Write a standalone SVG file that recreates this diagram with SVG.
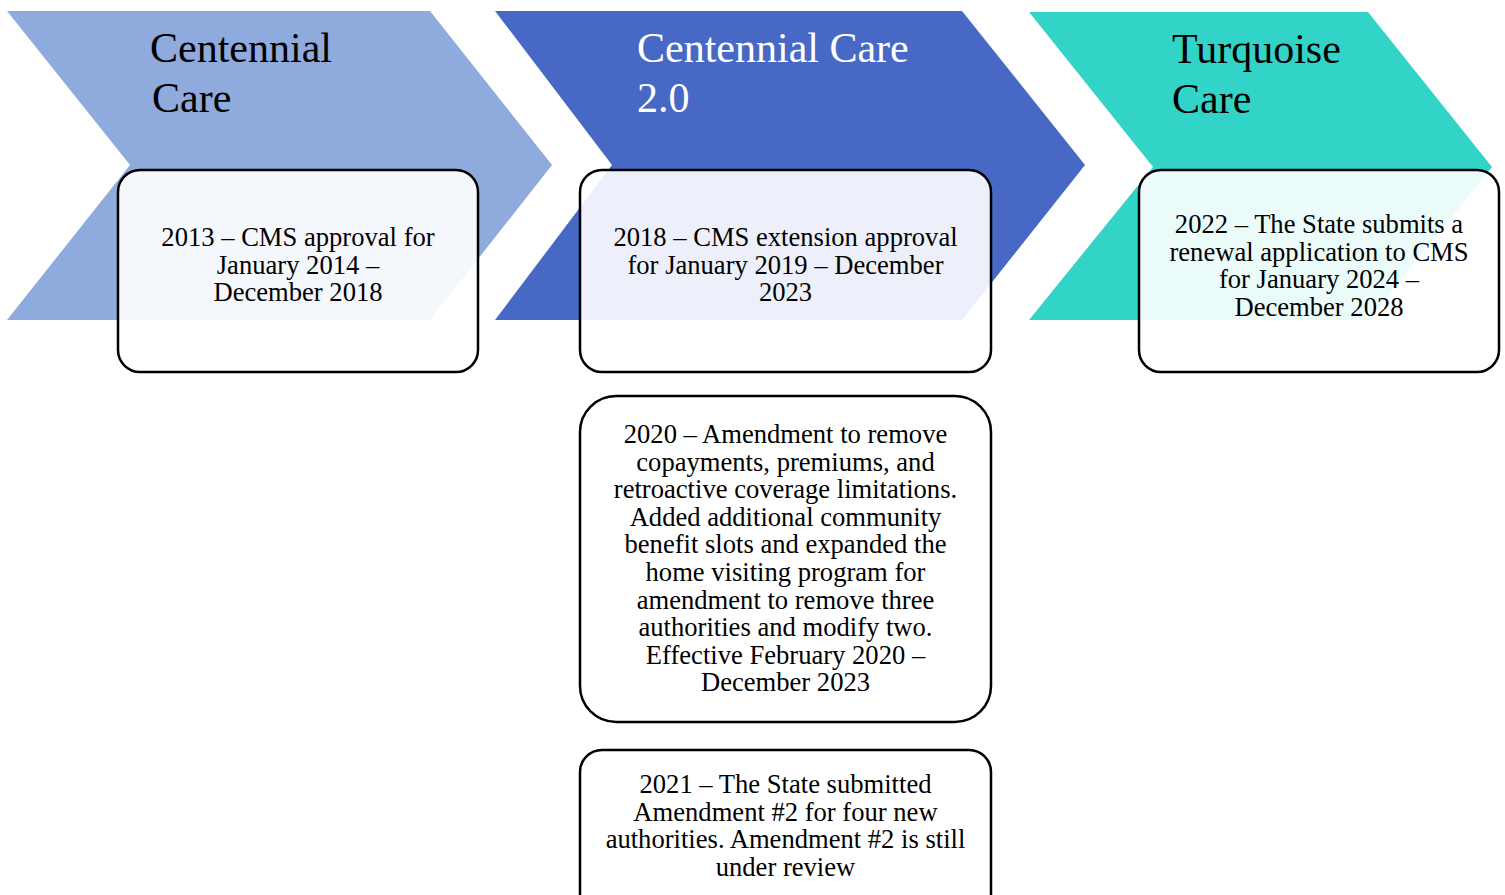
<svg xmlns="http://www.w3.org/2000/svg" width="1505" height="895" viewBox="0 0 1505 895">
<style>
.title{font-family:"Liberation Serif","Times New Roman",serif;font-size:42px;}
.box{fill:#ffffff;fill-opacity:0.9;stroke:#000000;stroke-width:2.5;}
.txt{font-family:"Liberation Serif","Times New Roman",serif;font-size:26.6px;fill:#000000;text-anchor:middle;}
</style>
<rect width="1505" height="895" fill="#ffffff"/>
<g id="chevron-centennial-care">
<polygon points="7,11 430,11 552,165 430,320 7,320 130,165" fill="#8FAADC"/>
<text class="title" fill="#000000"><tspan x="150" y="62">Centennial</tspan><tspan x="152" y="112">Care</tspan></text>
</g>
<g id="chevron-centennial-care-2">
<polygon points="495,11 962,11 1085,165 962,320 495,320 612,165" fill="#4769C5"/>
<text class="title" fill="#ffffff"><tspan x="637" y="62">Centennial Care</tspan><tspan x="637" y="112">2.0</tspan></text>
</g>
<g id="chevron-turquoise-care">
<polygon points="1029,12 1368,12 1492,167 1368,320 1029,320 1153,167" fill="#33D4C8"/>
<text class="title" fill="#000000"><tspan x="1172" y="63">Turquoise</tspan><tspan x="1172" y="113">Care</tspan></text>
</g>
<g id="connectors"></g>
<g id="box-2013">
<rect class="box" x="118" y="170" width="360" height="202" rx="22"/>
<text class="txt"><tspan x="298" y="246">2013 – CMS approval for</tspan><tspan x="298" y="274">January 2014 –</tspan><tspan x="298" y="301">December 2018</tspan></text>
</g>
<g id="box-2018">
<rect class="box" x="580" y="170" width="411" height="202" rx="22"/>
<text class="txt"><tspan x="785.5" y="246">2018 – CMS extension approval</tspan><tspan x="785.5" y="274">for January 2019 – December</tspan><tspan x="785.5" y="301">2023</tspan></text>
</g>
<g id="box-2022">
<rect class="box" x="1139" y="170" width="360" height="202" rx="22"/>
<text class="txt"><tspan x="1319" y="233">2022 – The State submits a</tspan><tspan x="1319" y="261">renewal application to CMS</tspan><tspan x="1319" y="288">for January 2024 –</tspan><tspan x="1319" y="316">December 2028</tspan></text>
</g>
<g id="box-2020">
<rect class="box" x="580" y="396" width="411" height="326" rx="36"/>
<text class="txt"><tspan x="785.5" y="443">2020 – Amendment to remove</tspan><tspan x="785.5" y="471">copayments, premiums, and</tspan><tspan x="785.5" y="498">retroactive coverage limitations.</tspan><tspan x="785.5" y="526">Added additional community</tspan><tspan x="785.5" y="553">benefit slots and expanded the</tspan><tspan x="785.5" y="581">home visiting program for</tspan><tspan x="785.5" y="609">amendment to remove three</tspan><tspan x="785.5" y="636">authorities and modify two.</tspan><tspan x="785.5" y="664">Effective February 2020 –</tspan><tspan x="785.5" y="691">December 2023</tspan></text>
</g>
<g id="box-2021">
<rect class="box" x="580" y="750" width="411" height="170" rx="22"/>
<text class="txt"><tspan x="785.5" y="793">2021 – The State submitted</tspan><tspan x="785.5" y="821">Amendment #2 for four new</tspan><tspan x="785.5" y="848">authorities. Amendment #2 is still</tspan><tspan x="785.5" y="876">under review</tspan></text>
</g>
</svg>
